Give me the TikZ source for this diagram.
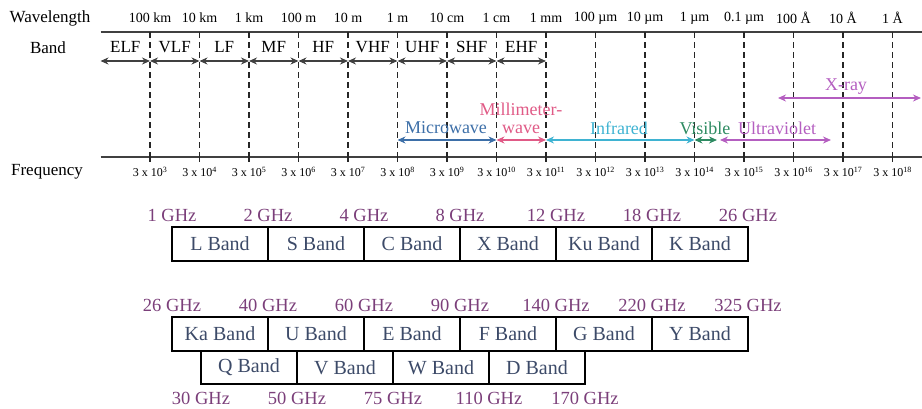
\documentclass[tikz,border=0pt]{standalone}
\usepackage{fontspec}
\setmainfont{Liberation Serif}
\usepackage{xcolor}
\usepackage{tikz}
\usetikzlibrary{arrows.meta, positioning}

\definecolor{mwblue}{HTML}{3D6FA8}
\definecolor{mmpink}{HTML}{E05A86}
\definecolor{irteal}{HTML}{3FB3D2}
\definecolor{visgreen}{HTML}{2E8B62}
\definecolor{uvpurple}{HTML}{B45EC0}
\definecolor{ghzpurple}{HTML}{7B3F7A}
\definecolor{bandtext}{HTML}{3C4A68}

\begin{document}
\begin{tikzpicture}[x=1pt, y=-1pt,
    axisline/.style={line width=2pt, black!75},
    divider/.style={line width=1.5pt, dash pattern=on 6pt off 4pt, black!85},
    spanarrow/.style={{Stealth[length=8pt, width=7pt]}-{Stealth[length=8pt, width=7pt]}, line width=1.4pt},
    rowlbl/.style={font=\fontsize{17}{20}\selectfont, inner sep=1pt},
    wavelbl/.style={font=\fontsize{14}{16}\selectfont, inner sep=1pt},
    bandlbl/.style={font=\fontsize{17}{19}\selectfont, inner sep=1pt},
    freqlbl/.style={font=\fontsize{12}{14}\selectfont, inner sep=1pt},
    regionlbl/.style={font=\fontsize{18}{20}\selectfont, inner sep=1pt},
    bandbox/.style={draw, line width=1.5pt, minimum width=96pt, minimum height=34pt, outer sep=0pt, inner sep=0pt, text=bandtext, font=\fontsize{20}{22}\selectfont},
    ghz/.style={text=ghzpurple, font=\fontsize{18.5}{21}\selectfont, inner sep=1pt},
]
\useasboundingbox (0,0) rectangle (922,408);

\foreach \i in {0,...,16} {
  \coordinate (w\i) at (100.5+49.5*\i, 32);
  \coordinate (f\i) at (100.5+49.5*\i, 157);
  \coordinate (a\i) at (100.5+49.5*\i, 61);
  \coordinate (s\i) at (100.5+49.5*\i, 140);
}
\coordinate (wend) at (922,32);
\coordinate (fend) at (922,157);

\draw[axisline] (w0) -- (wend);
\draw[axisline] (f0) -- (fend);
\foreach \i in {1,...,16} {
  \draw[divider] (w\i) -- (f\i);
  \draw[line width=1.5pt, black!85] (f\i) -- ++(0,5);
}

\node[rowlbl] (wavelength) at (50,18) {Wavelength};
\node[rowlbl] (band) at (48,48) {Band};
\node[rowlbl] (frequency) at (47,172) {Frequency};

\foreach \i/\t in {1/100 km, 2/10 km, 3/1 km, 4/100 m, 5/10 m, 6/1 m, 7/10 cm, 8/1 cm, 9/1 mm,
    10/100 µm, 11/10 µm, 12/1 µm, 13/0.1 µm, 14/100 Å, 15/10 Å, 16/1 Å}
  \node[wavelbl] (wl\i) at ([yshift=14pt]w\i) {\t};

\foreach \j/\i/\t in {0/1/ELF, 1/2/VLF, 2/3/LF, 3/4/MF, 4/5/HF, 5/6/VHF, 6/7/UHF, 7/8/SHF, 8/9/EHF} {
  \node[bandlbl] (bl\i) at (125.25+49.5*\j, 47) {\t};
  \draw[spanarrow, black!75] (a\j) -- (a\i);
}

\foreach \i [evaluate=\i as \e using int(\i+2)] in {1,...,16}
  \node[freqlbl] (fl\i) at ([yshift=-15pt]f\i) {3 x 10\textsuperscript{\e}};

\coordinate (visr) at (717,140);
\coordinate (uvl) at (720,140);
\coordinate (uvr) at (831,140);
\coordinate (xl) at (778,98);
\coordinate (xr) at (921,98);

\draw[spanarrow, mwblue] (s6) -- (s8);
\draw[spanarrow, mmpink] (s8) -- (s9);
\draw[spanarrow, irteal] (s9) -- (s12);
\draw[spanarrow, visgreen] (s12) -- (visr);
\draw[spanarrow, uvpurple] (uvl) -- (uvr);
\draw[spanarrow, uvpurple] (xl) -- (xr);

\node[regionlbl, text=mwblue] (microwave) at (446,128) {Microwave};
\node[regionlbl, text=mmpink] (mmwave1) at (521,109) {Millimeter-};
\node[regionlbl, text=mmpink] (mmwave2) at (521,129) {wave};
\node[regionlbl, text=irteal] (infrared) at (619,128) {Infrared};
\node[regionlbl, text=visgreen] (visible) at (705,128) {Visible};
\node[regionlbl, text=uvpurple] (ultraviolet) at (777,128) {Ultraviolet};
\node[regionlbl, text=uvpurple] (xray) at (846,87) {X-ray};

\node[bandbox] (lband) at (220,244) {L Band};
\node[bandbox, right=0pt of lband] (sband) {S Band};
\node[bandbox, right=0pt of sband] (cband) {C Band};
\node[bandbox, right=0pt of cband] (xband) {X Band};
\node[bandbox, right=0pt of xband] (kuband) {Ku Band};
\node[bandbox, right=0pt of kuband] (kband) {K Band};

\foreach \b/\t in {lband/1, sband/2, cband/4, xband/8, kuband/12, kband/18}
  \node[ghz] (g\b) at ([yshift=12pt]\b.north west) {\t~GHz};
\node[ghz] (gkbandend) at ([yshift=12pt]kband.north east) {26~GHz};

\node[bandbox] (kaband) at (220,334) {Ka Band};
\node[bandbox, right=0pt of kaband] (uband) {U Band};
\node[bandbox, right=0pt of uband] (eband) {E Band};
\node[bandbox, right=0pt of eband] (fband) {F Band};
\node[bandbox, right=0pt of fband] (gband) {G Band};
\node[bandbox, right=0pt of gband] (yband) {Y Band};

\node[bandbox, minimum height=33pt, anchor=north west] (qband) at ([xshift=29pt]kaband.south west) {Q Band};
\node[bandbox, minimum height=33pt, right=0pt of qband] (vband) {V Band};
\node[bandbox, minimum height=33pt, right=0pt of vband] (wband) {W Band};
\node[bandbox, minimum height=33pt, right=0pt of wband] (dband) {D Band};

\foreach \b/\t in {kaband/26, uband/40, eband/60, fband/90, gband/140, yband/220}
  \node[ghz] (g\b) at ([yshift=12pt]\b.north west) {\t~GHz};
\node[ghz] (gybandend) at ([yshift=12pt]yband.north east) {325~GHz};

\foreach \b/\t in {qband/30, vband/50, wband/75, dband/110}
  \node[ghz] (g\b) at ([yshift=-14pt]\b.south west) {\t~GHz};
\node[ghz] (gdbandend) at ([yshift=-14pt]dband.south east) {170~GHz};

\end{tikzpicture}
\end{document}
